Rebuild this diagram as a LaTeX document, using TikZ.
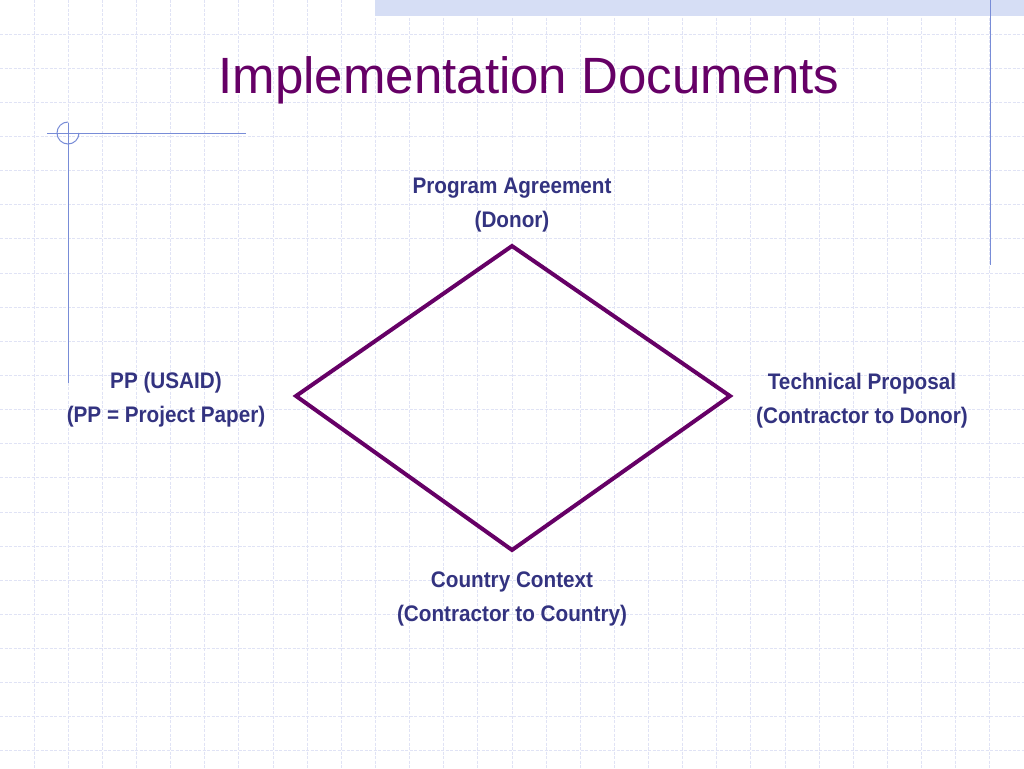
\documentclass[tikz,border=0pt]{standalone}
\usepackage{fontspec}
\setmainfont{Liberation Sans}
\newfontfamily\labfont[FakeStretch=0.92]{Liberation Sans}
\definecolor{gridc}{RGB}{224,227,245}
\definecolor{bandc}{RGB}{214,222,245}
\definecolor{decoc}{RGB}{120,140,215}
\definecolor{titlec}{RGB}{102,0,102}
\definecolor{labc}{RGB}{51,51,128}
\definecolor{diac}{RGB}{102,0,102}
\tikzset{
  gridline/.style={draw=gridc, line width=1pt, dash pattern=on 3pt off 1.5pt},
  deco/.style={draw=decoc, line width=1pt},
  labeltext/.style={text=labc, font=\labfont\bfseries\fontsize{22.5}{34}\selectfont, align=center, inner sep=0pt, anchor=base},
  titletext/.style={text=titlec, font=\fontsize{51}{60}\selectfont, inner sep=0pt, anchor=base},
  diamondline/.style={draw=diac, line width=4pt, line join=miter}
}
\begin{document}
\begin{tikzpicture}[x=1pt,y=-1pt]
\useasboundingbox (0,0) rectangle (1024,768);
\fill[white] (0,0) rectangle (1024,768);
% grid
\foreach \i in {1,...,29} \draw[gridline] (\i*34.133,0) -- (\i*34.133,768);
\foreach \j in {1,...,22} \draw[gridline] (0,\j*34.133) -- (1024,\j*34.133);
% top band
\fill[bandc] (375,0) rectangle (1024,16);
% decorations
\draw[deco] (47,133) -- (246,133);
\draw[deco] (68,123) -- (68,383);
\draw[deco] (79,133) arc[start angle=0, end angle=270, radius=11];
\draw[deco] (990,0) -- (990,265);
% title
\node[titletext] (title) at (529,93) {Implementation Documents};
% diamond
\coordinate (dtop) at (512,246);
\coordinate (dright) at (730,396);
\coordinate (dbottom) at (512,550);
\coordinate (dleft) at (296,396);
\draw[diamondline] (dtop) -- (dright) -- (dbottom) -- (dleft) -- cycle;
% labels (anchored at the baseline of the last line)
\node[labeltext] (ltop) at (512,227) {Program Agreement\\(Donor)};
\node[labeltext] (lleft) at (166,422) {PP (USAID)\\(PP = Project Paper)};
\node[labeltext] (lright) at (862,423) {Technical Proposal\\(Contractor to Donor)};
\node[labeltext] (lbottom) at (512,621) {Country Context\\(Contractor to Country)};
\end{tikzpicture}
\end{document}
